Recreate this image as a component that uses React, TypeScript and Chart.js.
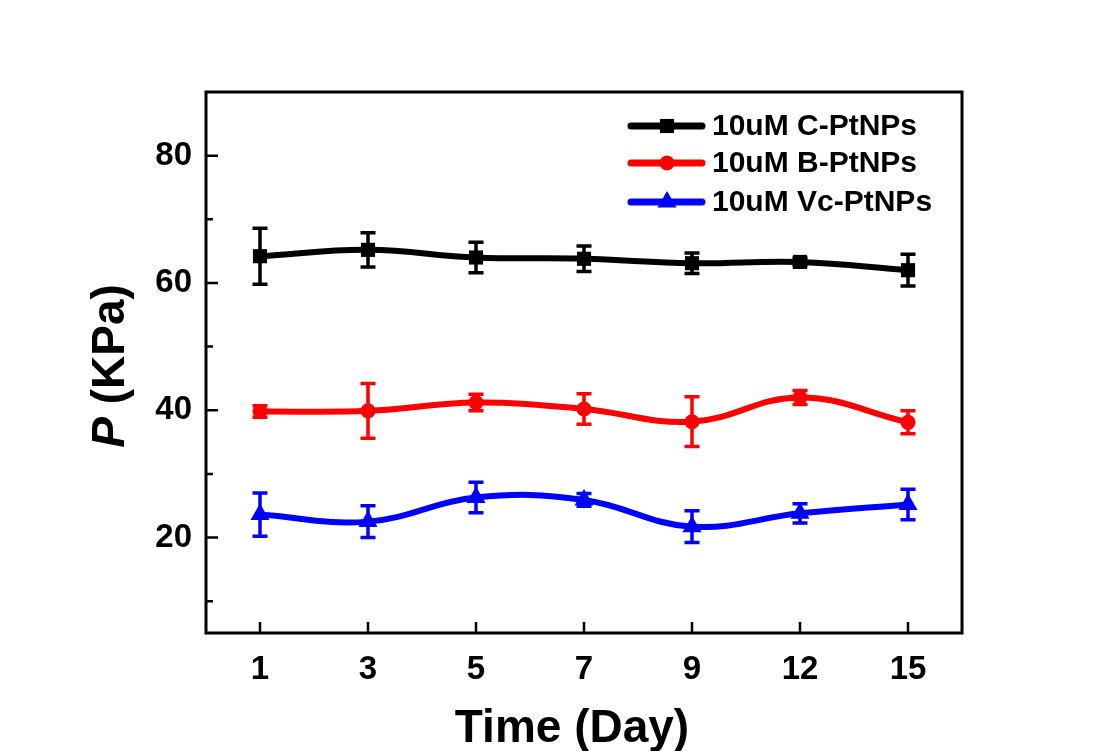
import React, { useEffect, useRef } from 'react';
import { Chart, registerables } from 'chart.js';

Chart.register(...registerables);

// ---- data ----
const days = ['1', '3', '5', '7', '9', '12', '15'];
const seriesNames = ['10uM C-PtNPs', '10uM B-PtNPs', '10uM Vc-PtNPs'];
const cValues = [64.2, 65.2, 64.0, 63.8, 63.1, 63.3, 62.0];
const cErrors = [4.4, 2.7, 2.4, 2.0, 1.6, 0.6, 2.5];
const bValues = [39.8, 39.9, 41.2, 40.2, 38.2, 42.0, 38.1];
const bErrors = [0.9, 4.3, 1.3, 2.4, 3.9, 1.1, 1.8];
const vValues = [23.6, 22.5, 26.3, 25.9, 21.7, 23.8, 25.2];
const vErrors = [3.4, 2.5, 2.4, 1.0, 2.5, 1.5, 2.4];
const yMajorTicks = [20, 40, 60, 80];
const yMinorTicks = [10, 30, 50, 70];

const seriesColors = ['#000000', '#ff0000', '#0000ff'];
const seriesMarkers = ['rect', 'circle', 'triangle'];
const seriesRadius = [10, 7.5, 11];
const seriesValues = [cValues, bValues, vValues];
const seriesErrors = [cErrors, bErrors, vErrors];

const FONT = '"Liberation Sans", Arial, sans-serif';

function drawMarker(ctx: CanvasRenderingContext2D, style: string, x: number, y: number, r: number, color: string) {
  ctx.save();
  ctx.fillStyle = color;
  ctx.beginPath();
  if (style === 'rect') {
    const s = Math.SQRT1_2 * r;
    ctx.rect(x - s, y - s, 2 * s, 2 * s);
  } else if (style === 'circle') {
    ctx.arc(x, y, r, 0, Math.PI * 2);
  } else {
    ctx.moveTo(x, y - r);
    ctx.lineTo(x + r * Math.sin(Math.PI / 3), y + r * 0.5);
    ctx.lineTo(x - r * Math.sin(Math.PI / 3), y + r * 0.5);
    ctx.closePath();
  }
  ctx.fill();
  ctx.restore();
}

const errorBarPlugin = {
  id: 'errorBars',
  beforeDatasetsDraw(chart: any) {
    const ctx = chart.ctx;
    const y = chart.scales.y;
    chart.data.datasets.forEach((ds: any, i: number) => {
      const meta = chart.getDatasetMeta(i);
      const errs = seriesErrors[i];
      ctx.save();
      ctx.strokeStyle = ds.borderColor;
      ctx.lineWidth = 3.5;
      meta.data.forEach((pt: any, j: number) => {
        const v = ds.data[j];
        const e = errs[j];
        const yt = y.getPixelForValue(v + e);
        const yb = y.getPixelForValue(v - e);
        const x = pt.x;
        ctx.beginPath();
        ctx.moveTo(x, yt);
        ctx.lineTo(x, yb);
        ctx.moveTo(x - 7.5, yt);
        ctx.lineTo(x + 7.5, yt);
        ctx.moveTo(x - 7.5, yb);
        ctx.lineTo(x + 7.5, yb);
        ctx.stroke();
      });
      ctx.restore();
    });
  },
};

const framePlugin = {
  id: 'frame',
  afterDraw(chart: any) {
    const ctx = chart.ctx;
    const a = chart.chartArea;
    const x = chart.scales.x;
    const y = chart.scales.y;
    ctx.save();
    ctx.strokeStyle = '#000';
    ctx.lineWidth = 3;
    ctx.strokeRect(a.left, a.top, a.right - a.left, a.bottom - a.top);
    ctx.lineWidth = 2.5;
    ctx.beginPath();
    yMajorTicks.forEach((t) => {
      const py = y.getPixelForValue(t);
      ctx.moveTo(a.left, py);
      ctx.lineTo(a.left + 12, py);
    });
    yMinorTicks.forEach((t) => {
      const py = y.getPixelForValue(t);
      ctx.moveTo(a.left, py);
      ctx.lineTo(a.left + 7, py);
    });
    days.forEach((_d, i) => {
      const px = x.getPixelForValue(i);
      ctx.moveTo(px, a.bottom);
      ctx.lineTo(px, a.bottom - 11);
    });
    ctx.stroke();

    // axis titles
    ctx.fillStyle = '#000';
    ctx.textBaseline = 'alphabetic';
    ctx.font = `bold 46px ${FONT}`;
    ctx.textAlign = 'center';
    ctx.fillText('Time (Day)', (a.left + a.right) / 2 - 12, 742);

    ctx.save();
    ctx.translate(124, 366);
    ctx.rotate(-Math.PI / 2);
    ctx.font = `italic bold 46px ${FONT}`;
    const wP = ctx.measureText('P').width;
    ctx.font = `bold 46px ${FONT}`;
    const wRest = ctx.measureText(' (KPa)').width;
    const start = -(wP + wRest) / 2;
    ctx.textAlign = 'left';
    ctx.font = `italic bold 46px ${FONT}`;
    ctx.fillText('P', start, 0);
    ctx.font = `bold 46px ${FONT}`;
    ctx.fillText(' (KPa)', start + wP, 0);
    ctx.restore();

    // legend
    const rowsY = [126, 163, 202];
    seriesNames.forEach((name, i) => {
      const cy = rowsY[i];
      ctx.strokeStyle = seriesColors[i];
      ctx.lineWidth = 7;
      ctx.lineCap = 'round';
      ctx.beginPath();
      ctx.moveTo(631, cy);
      ctx.lineTo(702, cy);
      ctx.stroke();
      ctx.lineCap = 'butt';
      drawMarker(ctx, seriesMarkers[i], 667, cy, seriesRadius[i], seriesColors[i]);
      ctx.fillStyle = '#000';
      ctx.font = `bold 30px ${FONT}`;
      ctx.textAlign = 'left';
      ctx.textBaseline = 'middle';
      ctx.fillText(name, 712, cy + 1);
    });
    ctx.restore();
  },
};

export default function App() {
  const ref = useRef<HTMLCanvasElement | null>(null);
  useEffect(() => {
    if (!ref.current) return;
    const chart = new Chart(ref.current, {
      type: 'line',
      data: {
        labels: days,
        datasets: seriesNames.map((name, i) => ({
          label: name,
          data: seriesValues[i],
          borderColor: seriesColors[i],
          backgroundColor: seriesColors[i],
          borderWidth: 6,
          tension: 0.4,
          pointStyle: seriesMarkers[i] as any,
          pointRadius: seriesRadius[i],
          pointBorderWidth: 0,
          pointBackgroundColor: seriesColors[i],
          fill: false,
        })),
      },
      options: {
        animation: false,
        responsive: false,
        devicePixelRatio: 1,
        layout: { padding: { top: 92, right: 140, left: 0, bottom: 0 } },
        plugins: {
          legend: { display: false },
          title: { display: false },
          tooltip: { enabled: false },
        },
        scales: {
          x: {
            type: 'category',
            offset: true,
            grid: { display: false, drawTicks: false },
            border: { display: false },
            ticks: {
              color: '#000',
              font: { family: FONT, size: 33, weight: 'bold' },
              padding: 17,
              maxRotation: 0,
            },
            afterFit: (s: any) => {
              s.height = 118;
            },
          },
          y: {
            type: 'linear',
            min: 5,
            max: 90,
            grid: { display: false, drawTicks: false },
            border: { display: false },
            ticks: {
              color: '#000',
              font: { family: FONT, size: 33, weight: 'bold' },
              padding: 14,
            },
            afterBuildTicks: (s: any) => {
              s.ticks = yMajorTicks.map((v) => ({ value: v }));
            },
            afterFit: (s: any) => {
              s.width = 206;
            },
          },
        },
      },
      plugins: [errorBarPlugin, framePlugin],
    });
    return () => chart.destroy();
  }, []);

  return (
    <div style={{ position: 'absolute', left: 0, top: 0, width: 1102, height: 751, background: '#fff' }}>
      <canvas ref={ref} width={1102} height={751} style={{ display: 'block' }} />
    </div>
  );
}
